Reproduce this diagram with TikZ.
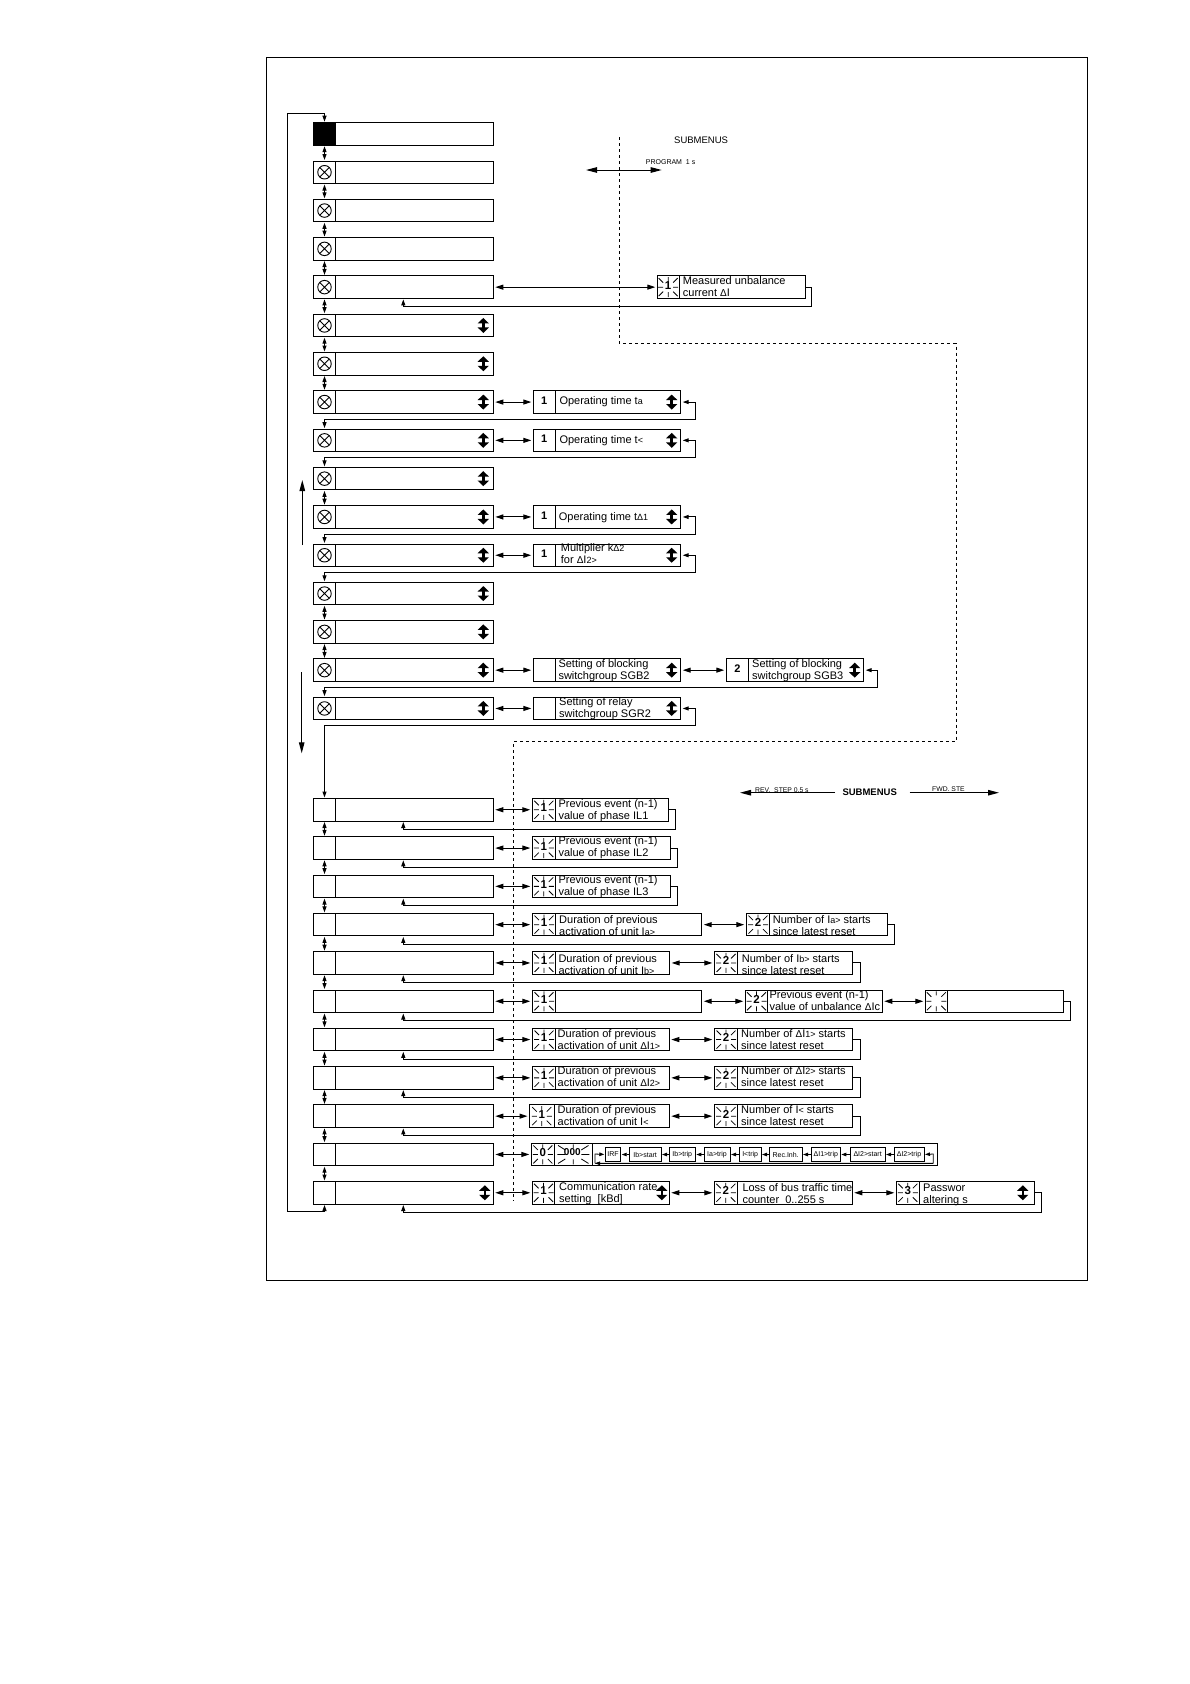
\documentclass[tikz,border=0pt]{standalone}
\usepackage{fontspec}
\setmainfont{Liberation Sans}
\usepackage{tikz}
\usetikzlibrary{arrows.meta,calc}
\def\sm#1{{\fontsize{9}{12}\selectfont #1}}
\def\dl{{\fontsize{10}{12}\selectfont Δ}}
\tikzset{
  cellbox/.style={draw, line width=1pt, minimum width=22.4pt, minimum height=22.5pt, inner sep=0pt, outer sep=0pt, anchor=north west},
  bodybox/.style={cellbox, minimum width=157.6pt},
  subbox/.style={draw, line width=1pt, minimum height=22.5pt, inner sep=0pt, outer sep=0pt, anchor=west},
  mini/.style={draw, line width=.8pt, minimum height=14pt, inner sep=0pt, outer sep=0pt, anchor=west, font=\fontsize{7}{8}\selectfont},
  lamp/.style={circle, draw, line width=.9pt, minimum size=13.5pt, inner sep=0pt, path picture={
      \draw[line width=.9pt] (path picture bounding box.north west) -- (path picture bounding box.south east)
        (path picture bounding box.north east) -- (path picture bounding box.south west);}},
  txt/.style={anchor=west, align=left, inner sep=0pt, yshift=-1pt, font=\fontsize{11}{12}\selectfont},
  digit/.style={inner sep=0pt, yshift=1.5pt, font=\fontsize{11}{12}\bfseries\selectfont},
  flashno/.style={inner sep=0pt, yshift=2pt, font=\fontsize{11.5}{13}\bfseries\selectfont},
  vert/.style={line width=1pt, <->, shorten <=1pt, shorten >=1pt},
  hor/.style={line width=1pt, <->, >={Triangle[length=8pt,width=5pt]}, shorten <=2pt, shorten >=2pt},
  back/.style={line width=1pt, <->, shorten <=2pt, shorten >=1pt},
  fb/.style={line width=1pt, ->, shorten >=1pt},
  big/.style={line width=1pt, >={Triangle[length=11pt,width=5.5pt]}},
  dots/.style={line width=1pt, dash pattern=on 3pt off 3pt},
  rays/.pic={
    \draw[line width=.8pt] (-10,0) -- (-5,0) (5,0) -- (10,0) (0,-10) -- (0,-6) (0,5) -- (0,10)
      (-9.5,-9) -- (-5,-4.5) (9.5,-9) -- (5,-4.5) (-9.5,9) -- (-5,4.5) (9.5,9) -- (5,4.5);},
  updn/.pic={
    \draw[line width=2.6pt, {Triangle[length=5.5pt,width=11pt]}-{Triangle[length=5.5pt,width=11pt]}] (0,-7.5) -- (0,7.5);}
}
\newcommand{\sub}[5]{%
  \node[subbox, minimum width=#4-#3] (#1a) at (#3,0 |- R#2.west) {};
  \node[subbox, minimum width=#5-#4] (#1) at (#4,0 |- R#2.west) {};
}
\begin{document}
\begin{tikzpicture}[x=1pt, y=-1pt, >={Triangle[length=6pt,width=4pt]}]
  \useasboundingbox (0,0) rectangle (1190,1684);
  \draw[line width=1pt] (266.4,57) rectangle (1087.7,1280.3);

  % main menu
  \foreach \i in {0,...,15} {
    \pgfmathsetmacro\y{122.7+38.3*\i}
    \node[cellbox] (C\i) at (313.3,\y) {};
    \node[bodybox] (R\i) at (335.7,\y) {};
  }
  \foreach \i in {16,...,26} {
    \pgfmathsetmacro\y{798.5+38.3*(\i-16)}
    \node[cellbox] (C\i) at (313.3,\y) {};
    \node[bodybox] (R\i) at (335.7,\y) {};
  }
  \fill (C0.north west) rectangle (C0.south east);
  \foreach \i in {1,...,15} {\node[lamp] (L\i) at (C\i) {};}
  \foreach \i in {5,...,15} {\pic at ([xshift=-10pt]R\i.east) {updn};}
  \pic at ([xshift=-8.5pt]R26.east) {updn};

  % submenus
  \sub{S4}{4}{657.3}{679}{805.5}
  \sub{S7}{7}{533.3}{555.3}{680.7}
  \sub{S8}{8}{533.3}{555.3}{680.7}
  \sub{S10}{10}{533.3}{555.3}{680.7}
  \sub{S11}{11}{533.3}{555.3}{680.7}
  \sub{S14}{14}{533.3}{555.3}{680.7}
  \sub{T14}{14}{726.3}{748.7}{863.7}
  \sub{S15}{15}{533.3}{555.3}{680.7}
  \sub{S16}{16}{532.3}{555.3}{668.7}
  \sub{S17}{17}{532.3}{555.3}{670}
  \sub{S18}{18}{532.3}{555.3}{670}
  \sub{S19}{19}{532.3}{555.7}{701.7}
  \sub{T19}{19}{746.3}{769.7}{887.7}
  \sub{S20}{20}{532.3}{555.7}{669.7}
  \sub{T20}{20}{714.3}{737.7}{852.3}
  \sub{S21}{21}{532.3}{555.7}{701.7}
  \sub{T21}{21}{745.3}{767.7}{882.3}
  \sub{U21}{21}{925.3}{947.3}{1063.3}
  \sub{S22}{22}{532.3}{555.7}{669.3}
  \sub{T22}{22}{714.3}{737.7}{852.3}
  \sub{S23}{23}{532.3}{555.7}{669.3}
  \sub{T23}{23}{714.3}{737.7}{852.3}
  \sub{S24}{24}{529.5}{554}{669.3}
  \sub{T24}{24}{714.3}{737.7}{852.3}
  \sub{S25}{25}{531.3}{554.3}{592.3}
  \node[subbox, minimum width=937.3-592.3] (Q) at (592.3,0 |- R25.west) {};
  \sub{S26}{26}{532.3}{554.7}{669.3}
  \sub{T26}{26}{714.3}{737.3}{852.3}
  \sub{U26}{26}{896.3}{919.3}{1034.3}

  \foreach \n/\d in {S4a/1,S16a/1,S17a/1,S18a/1,S19a/1,T19a/2,S20a/1,T20a/2,S21a/1,T21a/2,
      S22a/1,T22a/2,S23a/1,T23a/2,S24a/1,T24a/2,S25a/0,S26a/1,T26a/2,U26a/3} {
    \pic at (\n) {rays};
    \node[flashno] (n\n) at (\n) {\d};
  }
  \pic at (U21a) {rays};
  \pic[xscale=1.6] at (S25) {rays};
  \node[flashno, font=\fontsize{10}{12}\bfseries\selectfont, xshift=-1pt] (nS25) at (S25) {000};

  \foreach \n/\d in {S7a/1,S8a/1,S10a/1,S11a/1,T14a/2} {\node[digit] (n\n) at (\n) {\d};}
  \pic at ([xshift=-9pt]S7.east) {updn};
  \pic at ([xshift=-9pt]S8.east) {updn};
  \pic at ([xshift=-9pt]S10.east) {updn};
  \pic at ([xshift=-9pt]S11.east) {updn};
  \pic at ([xshift=-9pt]S14.east) {updn};
  \pic at ([xshift=-9pt]T14.east) {updn};
  \pic at ([xshift=-9pt]S15.east) {updn};
  \pic at ([xshift=-7.5pt]S26.east) {updn};
  \pic at ([xshift=-11.5pt]U26.east) {updn};

  \node[txt] (tS4) at (682.7,285.3) {Measured unbalance\\current \dl I};
  \node[txt] (tS7) at (559.3,401) {Operating time t\sm{a}};
  \node[txt] (tS8) at (559.3,440) {Operating time t\sm{<}};
  \node[txt] (tS10) at (558.7,516.3) {Operating time t\sm{Δ1}};
  \node[txt] (tS11) at (560.7,552.5) {Multiplier k\sm{Δ2}\\for \dl I\sm{2>}};
  \node[txt] (tS14) at (558.3,669.2) {Setting of blocking\\switchgroup SGB2};
  \node[txt] (tT14) at (752,669.2) {Setting of blocking\\switchgroup SGB3};
  \node[txt] (tS15) at (559,707.2) {Setting of relay\\switchgroup SGR2};
  \node[txt] (tS16) at (558.3,809.3) {Previous event (n-1)\\value of phase IL1};
  \node[txt] (tS17) at (558.3,847) {Previous event (n-1)\\value of phase IL2};
  \node[txt] (tS18) at (558.3,885.6) {Previous event (n-1)\\value of phase IL3};
  \node[txt] (tS19) at (559,924.3) {Duration of previous\\activation of unit I\sm{a>}};
  \node[txt] (tT19) at (772.7,924.3) {Number of I\sm{a>} starts\\since latest reset};
  \node[txt] (tS20) at (558.3,963.5) {Duration of previous\\activation of unit I\sm{b>}};
  \node[txt] (tT20) at (741.7,963.5) {Number of I\sm{b>} starts\\since latest reset};
  \node[txt] (tT21) at (769.3,999.8) {Previous event (n-1)\\value of unbalance \dl Ic};
  \node[txt] (tS22) at (557.5,1039) {Duration of previous\\activation of unit \dl I\sm{1>}};
  \node[txt] (tT22) at (741,1039) {Number of \dl I\sm{1>} starts\\since latest reset};
  \node[txt] (tS23) at (557.5,1075.7) {Duration of previous\\activation of unit \dl I\sm{2>}};
  \node[txt] (tT23) at (741,1075.7) {Number of \dl I\sm{2>} starts\\since latest reset};
  \node[txt] (tS24) at (557.5,1114.4) {Duration of previous\\activation of unit I\sm{<}};
  \node[txt] (tT24) at (741,1114.4) {Number of I\sm{<} starts\\since latest reset};
  \node[txt] (tS26) at (559,1192.5) {Communication rate\\setting~~[kBd]};
  \node[txt] (tT26) at (742.3,1192.5) {Loss of bus traffic time\\counter~~0..255 s};
  \node[txt] (tU26) at (923,1194.3) {Passwor\\altering s};

  % alarm list
  \foreach \i/\a/\b/\t in {1/605.3/620.7/IRF, 2/629.3/661/Ib>start, 3/669.3/695.3/Ib>trip, 4/704/730/Ia>trip,
      5/739.3/761/I<trip, 6/769.3/802/Rec.Inh., 7/811.3/840.3/ΔI1>trip, 8/850.3/885/ΔI2>start, 9/894/924/ΔI2>trip} {
    \node[mini, minimum width=\b-\a] (Q\i) at (\a,1154.5) {\t};
  }
  \foreach \a/\b in {Q2/Q1,Q3/Q2,Q4/Q3,Q5/Q4,Q6/Q5,Q7/Q6,Q8/Q7,Q9/Q8} {
    \draw[line width=.8pt, ->, >={Triangle[length=5pt,width=3.5pt]}, shorten >=1pt] (\a.west) -- (\b.east);
  }
  \coordinate (A1) at (933.3,1154);
  \coordinate (A2) at (933.3,1163.3);
  \coordinate (A3) at (595,1163.3);
  \coordinate (A4) at (595,1154);
  \draw[line width=.8pt, <-, >={Triangle[length=5pt,width=3.5pt]}, shorten <=1pt] (Q9.east) -- (A1) -- (A2) -- (A3);
  \draw[line width=.8pt, ->, >={Triangle[length=5pt,width=3.5pt]}] (A2) -- (A3);
  \draw[line width=.8pt, ->, >={Triangle[length=5pt,width=3.5pt]}, shorten >=1pt] (A3) -- (A4) -- (Q1.west);

  % moving between the menus
  \foreach \a/\b in {0/1,1/2,2/3,3/4,4/5,5/6,6/7,9/10,12/13,13/14,16/17,17/18,18/19,19/20,20/21,21/22,22/23,23/24,24/25,25/26} {
    \draw[vert] (C\a.south) -- (C\b.north);
  }
  \foreach \a/\b in {R4/S4a,R7/S7a,R8/S8a,R10/S10a,R11/S11a,R14/S14a,S14/T14a,R15/S15a,R16/S16a,R17/S17a,R18/S18a,
      R19/S19a,S19/T19a,R20/S20a,S20/T20a,R21/S21a,S21/T21a,T21/U21a,R22/S22a,S22/T22a,R23/S23a,S23/T23a,
      R24/S24a,S24/T24a,R25/S25a,R26/S26a,S26/T26a,T26/U26a} {
    \draw[hor] (\a.east) -- (\b.west |- \a.east);
  }
  \foreach \a/\b/\d in {S7/C8/15,S8/C9/15,S10/C11/15,S11/C12/15,T14/C15/13.6,S15/C16/15} {
    \draw[back] (\a.east) -- ++(\d,0) -- ++(0,17.5) -| (\b.north);
  }
  \coordinate (k) at (403.3,0);
  \foreach \a/\b/\d in {S4/4/5.5,S16/16/7,S17/17/7,S18/18/7,T19/19/7,T20/20/8,U21/21/7,T22/22/8,T23/23/8,T24/24/8,U26/26/7.5} {
    \draw[fb] (\a.east) -- ++(\d,0) -- ++(0,19.5) -| (R\b.south -| k);
  }
  \coordinate (W) at (287.3,113.3);
  \draw[vert] (C26.south) -- ++(0,7.7) -| (W) -- (W -| C0.north) -- (C0.north);

  % submenu border
  \coordinate (D1) at (619.3,137.3);
  \coordinate (D2) at (619.3,343.3);
  \coordinate (D3) at (956,343.3);
  \coordinate (D4) at (956,741.3);
  \coordinate (D5) at (513.7,741.3);
  \coordinate (D6) at (513.7,1200.7);
  \draw[dots] (D1) -- (D2) -- (D3) -- (D4) -- (D5) -- (D6);

  \node[anchor=west, inner sep=0pt, font=\fontsize{9.5}{10}\selectfont] (sub1) at (674,140) {SUBMENUS};
  \node[anchor=west, inner sep=0pt, font=\fontsize{7}{8}\selectfont] (prog) at (645.7,162.3) {PROGRAM~~1 s};
  \coordinate (P1) at (586,170);
  \coordinate (P2) at (661.7,170);
  \draw[big, <->] (P1) -- (P2);

  \node[anchor=west, inner sep=0pt, font=\fontsize{9.5}{10}\bfseries\selectfont] (sub2) at (842.3,792.7) {SUBMENUS};
  \node[anchor=west, inner sep=0pt, font=\fontsize{6.8}{8}\selectfont] (rev) at (755,790.3) {REV.~~STEP 0.5 s};
  \node[anchor=west, inner sep=0pt, font=\fontsize{6.8}{8}\selectfont] (fwd) at (932,789.5) {FWD. STE};
  \coordinate (G1) at (835,792.7);
  \coordinate (G2) at (740,792.7);
  \coordinate (F1) at (909.7,792.7);
  \coordinate (F2) at (999,792.7);
  \draw[big, ->] (G1) -- (G2);
  \draw[big, ->] (F1) -- (F2);

  \coordinate (U1) at (302.3,545);
  \coordinate (U2) at (302.3,480);
  \coordinate (V1) at (301.7,672.3);
  \coordinate (V2) at (301.7,753.3);
  \draw[big, ->] (U1) -- (U2);
  \draw[big, ->] (V1) -- (V2);
\end{tikzpicture}
\end{document}
